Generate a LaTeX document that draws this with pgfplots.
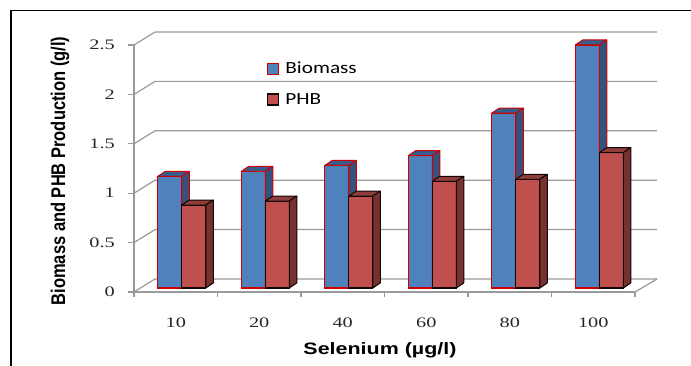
\documentclass[border=0pt]{standalone}
\usepackage{pgfplots}
\usepackage{pgfplotstable}
\pgfplotsset{compat=1.18}
\usepackage{fontspec}
\usepackage{graphicx}
\setmainfont{Liberation Sans}
\newfontfamily\tickfont[FakeStretch=1.4]{Liberation Serif}
\newfontfamily\legfont[FakeStretch=1.25]{Carlito}
\newfontfamily\titlefont[FakeStretch=1.3]{Liberation Sans}

\definecolor{bioface}{HTML}{4F81BD}
\definecolor{biotop}{HTML}{375D8C}
\definecolor{bioside}{HTML}{34527C}
\definecolor{bioedge}{HTML}{D00000}
\definecolor{phbface}{HTML}{C0504D}
\definecolor{phbtop}{HTML}{8E3D3A}
\definecolor{phbside}{HTML}{773230}
\definecolor{phbedge}{HTML}{120606}
\definecolor{gridcol}{HTML}{9A9A9A}

% selenium concentration, biomass and PHB (g/l)
\pgfplotstableread{
pos  bio   phb
0.5  1.13  0.84
1.5  1.18  0.88
2.5  1.24  0.93
3.5  1.34  1.08
4.5  1.77  1.10
5.5  2.46  1.37
}\seldata

% depth of a column and y unit (pt per g/l)
\def\dx{7.5}
\def\dy{5}
\def\yunit{98.8}

% top and side faces of a column, drawn at the top-centre of its category
% #1 left edge, #2 right edge (pt from category centre), #3 top fill, #4 side fill, #5 edge colour
\newcommand\capfaces[5]{%
  \pgfmathsetmacro\capbase{-\val*\yunit}%
  \pgfmathsetmacro\capback{\dy-\val*\yunit}%
  \pgfmathsetmacro\capl{#1+\dx}%
  \pgfmathsetmacro\capr{#2+\dx}%
  \filldraw[fill=#3,draw=#5,line width=1pt,line join=round]
    (#1pt,0pt) -- (#2pt,0pt) -- (\capr pt,\dy pt) -- (\capl pt,\dy pt) -- cycle;
  \filldraw[fill=#4,draw=#5,line width=1pt,line join=round]
    (#2pt,0pt) -- (\capr pt,\dy pt) -- (\capr pt,\capback pt) -- (#2pt,\capbase pt) -- cycle;
}

\begin{document}
\begin{tikzpicture}
% chart frame
\draw[line width=1.4pt] (11pt,0pt) -- (11pt,355.5pt) -- (691pt,355.5pt);

% front plane: axes, ticks, labels and back-wall grid
\begin{axis}[
  at={(134pt,74pt)}, anchor=south west,
  scale only axis, width=501pt, height=247pt,
  xmin=0, xmax=6, ymin=0, ymax=2.5,
  clip=false,
  axis x line*=bottom, axis y line*=left,
  axis line style={draw=gridcol, line width=1.2pt, -},
  xtick={0.5,1.5,2.5,3.5,4.5,5.5},
  xticklabels={10,20,40,60,80,100},
  minor xtick={0,1,2,3,4,5,6},
  ytick={0,0.5,1,1.5,2,2.5},
  tick align=outside,
  major tick length=6pt, minor tick length=5pt,
  major x tick style={draw=none},
  minor x tick style={draw=gridcol, line width=1.2pt},
  major y tick style={draw=gridcol, line width=1.2pt},
  /pgf/number format/assume math mode=true,
  tick label style={font=\tickfont\fontsize{14.5}{16}\selectfont, text=black!85},
  xticklabel style={anchor=north, inner sep=0pt, yshift=-20pt},
  yticklabel style={anchor=east, inner sep=0pt, xshift=-13pt},
  xlabel={Selenium (µg/l)},
  xlabel style={at={(axis description cs:0.491,-0.235)}, anchor=center,
    font=\titlefont\bfseries\fontsize{16.5}{20}\selectfont},
  ylabel={\scalebox{1}[1.2]{Biomass and PHB Production (g/l)}},
  ylabel style={at={(axis description cs:-0.1477,0.49)}, anchor=center,
    font=\bfseries\fontsize{16.5}{20}\selectfont},
]
\pgfplotsinvokeforeach{0,0.5,1,1.5,2,2.5}{
  \draw[gridcol, line width=1.2pt] (axis cs:0,#1) -- ++(21pt,13pt) -- ++(502pt,0pt);
}
\draw[gridcol, line width=1.2pt] (axis cs:6,0) -- ++(22pt,13pt);
\end{axis}

% columns, set back from the front plane
\begin{axis}[
  at={(140pt,78pt)}, anchor=south west,
  scale only axis, width=501pt, height=247pt,
  xmin=0, xmax=6, ymin=0, ymax=2.5,
  hide axis, clip=false, clip marker paths=true,
  legend image code/.code={\draw[#1] (0pt,-5.5pt) rectangle (11pt,5.5pt);},
  legend style={at={(0.2535,0.915)}, anchor=north west, draw=none, fill=none,
    inner sep=0pt, row sep=18pt,
    font=\legfont\fontsize{17}{20}\selectfont,
    nodes={inner sep=0pt, anchor=west},
    /tikz/every odd column/.append style={column sep=6pt}},
]
\addplot[ybar, bar width=24pt, bar shift=-12pt, fill=bioface, draw=bioedge, line width=1.2pt]
  table[x=pos, y=bio]{\seldata};
\addlegendentry{Biomass}
\addplot[forget plot, scatter, only marks, mark=*, mark size=0pt,
  mark options={draw=none, fill=none},
  visualization depends on={\thisrow{bio} \as \val},
  scatter/@pre marker code/.code={\capfaces{-24}{0}{biotop}{bioside}{bioedge}},
  scatter/@post marker code/.code={}]
  table[x=pos, y=bio]{\seldata};
\addplot[ybar, bar width=24pt, bar shift=12pt, fill=phbface, draw=phbedge, line width=1.2pt]
  table[x=pos, y=phb]{\seldata};
\addlegendentry{PHB}
\addplot[forget plot, scatter, only marks, mark=*, mark size=0pt,
  mark options={draw=none, fill=none},
  visualization depends on={\thisrow{phb} \as \val},
  scatter/@pre marker code/.code={\capfaces{0}{24}{phbtop}{phbside}{phbedge}},
  scatter/@post marker code/.code={}]
  table[x=pos, y=phb]{\seldata};
\end{axis}

\pgfresetboundingbox
\useasboundingbox (0pt,0pt) rectangle (691pt,366pt);
\end{tikzpicture}
\end{document}
